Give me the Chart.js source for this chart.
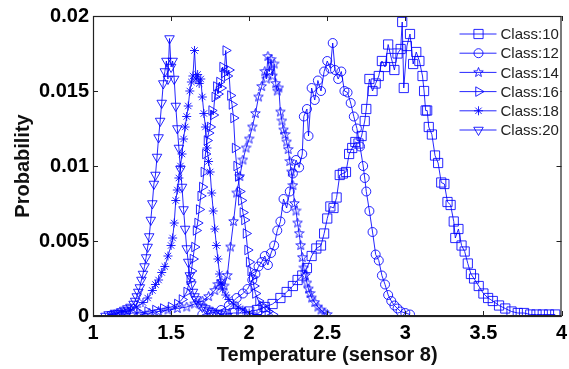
<!DOCTYPE html>
<html>
<head>
<meta charset="utf-8">
<script src="https://cdn.jsdelivr.net/npm/chart.js@4.4.0/dist/chart.umd.min.js"></script>
<style>
  html, body { margin: 0; padding: 0; background: #fff; }
  #wrap { width: 569px; height: 369px; }
</style>
</head>
<body>
<div id="wrap"><canvas id="tempChart" width="569" height="369"></canvas></div>
<script>
// series labels
const classNames = ['Class:10', 'Class:12', 'Class:14', 'Class:16', 'Class:18', 'Class:20'];

// axis ticks
const xTicks = [1, 1.5, 2, 2.5, 3, 3.5, 4];
const yTicks = [0, 0.005, 0.01, 0.015, 0.02];

// Class:10 (squares)
const x10 = [1.85,1.90,1.95,2.00,2.05,2.10,2.15,2.20,2.24,2.28,2.31,2.34,2.37,2.40,2.43,2.46,2.48,2.50,2.52,2.54,2.56,2.58,2.60,2.62,2.64,2.66,2.68,2.70,2.72,2.74,2.75,2.77,2.79,2.81,2.83,2.85,2.87,2.89,2.91,2.93,2.95,2.97,2.98,2.99,3.01,3.03,3.05,3.07,3.09,3.11,3.12,3.13,3.14,3.15,3.17,3.19,3.21,3.23,3.25,3.27,3.29,3.31,3.32,3.34,3.36,3.38,3.40,3.42,3.44,3.47,3.50,3.53,3.56,3.60,3.64,3.68,3.72,3.76,3.80,3.84,3.88,3.92,3.96];
const y10 = [0.0001,0.0002,0.0002,0.0003,0.0004,0.0006,0.0008,0.0012,0.0016,0.0020,0.0024,0.0027,0.0032,0.0040,0.0045,0.0047,0.0055,0.0065,0.0073,0.0072,0.0079,0.0094,0.0095,0.0096,0.0108,0.0112,0.0116,0.0115,0.0120,0.0130,0.0138,0.0158,0.0150,0.0155,0.0160,0.0170,0.0166,0.0181,0.0172,0.0164,0.0175,0.0178,0.0196,0.0152,0.0180,0.0188,0.0168,0.0176,0.0170,0.0160,0.0150,0.0137,0.0137,0.0126,0.0121,0.0107,0.0102,0.0089,0.0088,0.0076,0.0074,0.0063,0.0052,0.0058,0.0047,0.0043,0.0035,0.0028,0.0025,0.0020,0.0015,0.0012,0.0010,0.0007,0.0005,0.0003,0.0002,0.0002,0.0001,0.0001,0.0001,0.0001,0.0001];

// Class:12 (circles)
const x12 = [1.70,1.76,1.82,1.87,1.92,1.96,1.99,2.02,2.04,2.06,2.08,2.10,2.12,2.14,2.16,2.18,2.20,2.22,2.24,2.26,2.28,2.30,2.32,2.34,2.35,2.37,2.38,2.40,2.42,2.44,2.46,2.48,2.50,2.52,2.535,2.55,2.57,2.59,2.61,2.63,2.65,2.67,2.69,2.71,2.73,2.74,2.75,2.77,2.79,2.81,2.83,2.85,2.87,2.89,2.91,2.93,2.95,2.97,3.00,3.03];
const y12 = [0.0001,0.0002,0.0004,0.0007,0.0012,0.0015,0.0018,0.0024,0.0028,0.0033,0.0036,0.0040,0.0034,0.0042,0.0047,0.0057,0.0063,0.0078,0.0072,0.0083,0.0095,0.0104,0.0099,0.0108,0.0133,0.0138,0.0120,0.0152,0.0144,0.0157,0.0150,0.0163,0.0170,0.0165,0.0182,0.0164,0.0158,0.0163,0.0150,0.0149,0.0142,0.0133,0.0125,0.0113,0.0100,0.0092,0.0083,0.0070,0.0056,0.0041,0.0037,0.0027,0.0021,0.0014,0.0010,0.0007,0.0005,0.0003,0.0002,0.0001];

// Class:14 (pentagrams)
const x14 = [1.30,1.36,1.42,1.48,1.54,1.60,1.65,1.70,1.74,1.78,1.80,1.82,1.84,1.86,1.88,1.90,1.92,1.94,1.96,1.98,2.00,2.02,2.04,2.06,2.08,2.10,2.11,2.12,2.13,2.14,2.15,2.16,2.17,2.18,2.19,2.20,2.21,2.22,2.23,2.24,2.25,2.26,2.27,2.28,2.29,2.30,2.31,2.32,2.33,2.34,2.35,2.36,2.37,2.38,2.39,2.40,2.42,2.44,2.46,2.48,2.50];
const y14 = [0.0001,0.0002,0.0003,0.0004,0.0005,0.0006,0.0008,0.0010,0.0013,0.0017,0.0021,0.0023,0.0020,0.0027,0.0046,0.0063,0.0082,0.0093,0.0104,0.0112,0.0118,0.0126,0.0135,0.0146,0.0153,0.0163,0.0158,0.0173,0.0163,0.0171,0.0160,0.0168,0.0155,0.0150,0.0152,0.0136,0.0130,0.0124,0.0121,0.0116,0.0111,0.0103,0.0096,0.0087,0.0075,0.0070,0.0062,0.0055,0.0047,0.0039,0.0032,0.0027,0.0022,0.0018,0.0015,0.0012,0.0009,0.0006,0.0004,0.0002,0.0001];

// Class:16 (right triangles)
const x16 = [1.20,1.25,1.30,1.35,1.40,1.45,1.50,1.54,1.57,1.60,1.62,1.63,1.64,1.65,1.66,1.67,1.68,1.69,1.70,1.71,1.72,1.73,1.74,1.75,1.76,1.77,1.78,1.79,1.80,1.81,1.82,1.83,1.84,1.85,1.86,1.87,1.88,1.89,1.90,1.91,1.92,1.93,1.94,1.95,1.96,1.97,1.98,1.99,2.00,2.01,2.02,2.03,2.04,2.06,2.08,2.10,2.12,2.15];
const y16 = [0.0001,0.0002,0.0002,0.0003,0.0004,0.0005,0.0006,0.0008,0.0011,0.0016,0.0024,0.0030,0.0038,0.0046,0.0057,0.0062,0.0071,0.0080,0.0086,0.0096,0.0108,0.0117,0.0122,0.0126,0.0137,0.0134,0.0146,0.0153,0.0148,0.0156,0.0152,0.0166,0.0162,0.0177,0.0160,0.0164,0.0147,0.0141,0.0132,0.0112,0.0100,0.0093,0.0083,0.0077,0.0069,0.0064,0.0055,0.0044,0.0036,0.0030,0.0026,0.0020,0.0015,0.0010,0.0007,0.0005,0.0003,0.0001];

// Class:18 (asterisks)
const x18 = [1.12,1.16,1.20,1.24,1.28,1.32,1.35,1.38,1.40,1.42,1.44,1.46,1.48,1.50,1.51,1.52,1.53,1.54,1.55,1.56,1.57,1.58,1.59,1.60,1.61,1.62,1.63,1.64,1.65,1.66,1.67,1.68,1.69,1.70,1.71,1.72,1.73,1.74,1.75,1.76,1.77,1.78,1.79,1.80,1.81,1.82,1.83,1.85,1.87,1.90,1.93,1.96,2.00,2.05];
const y18 = [0.0001,0.0002,0.0003,0.0004,0.0006,0.0009,0.0012,0.0017,0.0021,0.0024,0.0029,0.0033,0.0040,0.0047,0.0052,0.0062,0.0077,0.0084,0.0092,0.0100,0.0108,0.0118,0.0126,0.0133,0.0140,0.0150,0.0156,0.0160,0.0177,0.0158,0.0161,0.0155,0.0158,0.0146,0.0135,0.0126,0.0112,0.0103,0.0096,0.0082,0.0070,0.0058,0.0047,0.0038,0.0028,0.0022,0.0018,0.0014,0.0011,0.0008,0.0006,0.0004,0.0002,0.0001];

// Class:20 (down triangles)
const x20 = [1.08,1.10,1.12,1.14,1.16,1.18,1.20,1.22,1.24,1.26,1.27,1.28,1.29,1.30,1.31,1.32,1.33,1.34,1.35,1.36,1.37,1.38,1.39,1.40,1.41,1.42,1.43,1.44,1.45,1.46,1.47,1.48,1.49,1.50,1.51,1.52,1.53,1.54,1.55,1.56,1.57,1.58,1.59,1.60,1.61,1.62,1.63,1.64,1.65,1.66,1.68,1.70,1.72,1.74,1.76,1.78,1.80,1.83,1.86];
const y20 = [0.0000,0.0001,0.0001,0.0002,0.0002,0.0003,0.0004,0.0005,0.0006,0.0008,0.0010,0.0013,0.0016,0.0019,0.0024,0.0028,0.0033,0.0039,0.0046,0.0053,0.0064,0.0075,0.0088,0.0094,0.0106,0.0119,0.0130,0.0142,0.0155,0.0163,0.0170,0.0158,0.0185,0.0166,0.0170,0.0158,0.0140,0.0125,0.0112,0.0098,0.0086,0.0071,0.0058,0.0045,0.0036,0.0027,0.0021,0.0016,0.0013,0.0011,0.0008,0.0006,0.0005,0.0004,0.0003,0.0002,0.0002,0.0001,0.0000];

const blue = 'rgba(0, 0, 255, 0.85)';
const FONT = "'Liberation Sans', Arial, sans-serif";

// pentagram marker (chart.js has no 5-point star)
function makePentagram(size) {
    const c = document.createElement('canvas');
    c.width = size; c.height = size;
    const g = c.getContext('2d');
    const cx = size / 2, cy = size / 2, R = size / 2 - 0.5, r = R * 0.42;
    g.beginPath();
    for (let i = 0; i < 10; i++) {
        const a = -Math.PI / 2 + i * Math.PI / 5;
        const rr = i % 2 === 0 ? R : r;
        const px = cx + rr * Math.cos(a), py = cy + rr * Math.sin(a);
        if (i === 0) g.moveTo(px, py); else g.lineTo(px, py);
    }
    g.closePath();
    g.strokeStyle = blue;
    g.lineWidth = 1;
    g.stroke();
    return c;
}
const pentagram = makePentagram(11);

function pts(xs, ys) {
    return xs.map((x, i) => ({ x: x, y: ys[i] }));
}

const markers = [
    { style: 'rect', radius: 6.5, rotation: 0 },
    { style: 'circle', radius: 4.5, rotation: 0 },
    { style: pentagram, radius: 5, rotation: 0 },
    { style: 'triangle', radius: 5.5, rotation: 90 },
    { style: 'star', radius: 4.5, rotation: 0 },
    { style: 'triangle', radius: 5.5, rotation: 180 }
];
const seriesData = [pts(x10, y10), pts(x12, y12), pts(x14, y14), pts(x16, y16), pts(x18, y18), pts(x20, y20)];

const datasets = classNames.map((name, i) => ({
    label: name,
    data: seriesData[i],
    borderColor: blue,
    backgroundColor: 'rgba(0,0,0,0)',
    borderWidth: 1,
    pointStyle: markers[i].style,
    pointRadius: markers[i].radius,
    pointRotation: markers[i].rotation,
    pointBorderColor: blue,
    pointBackgroundColor: 'rgba(0,0,0,0)',
    pointBorderWidth: 1,
    tension: 0,
    fill: false
}));

// box around the plot + ticks pointing inward, matlab style
const boxPlugin = {
    id: 'box',
    afterDraw(chart) {
        const ctx = chart.ctx, a = chart.chartArea;
        const xs = chart.scales.x, ys = chart.scales.y;
        ctx.save();
        ctx.strokeStyle = '#222';
        ctx.lineWidth = 1;
        xTicks.forEach(v => {
            const px = Math.round(xs.getPixelForValue(v)) + 0.5;
            ctx.beginPath();
            ctx.moveTo(px, a.bottom); ctx.lineTo(px, a.bottom - 5);
            ctx.moveTo(px, a.top); ctx.lineTo(px, a.top + 5);
            ctx.stroke();
        });
        yTicks.forEach(v => {
            const py = Math.round(ys.getPixelForValue(v)) + 0.5;
            ctx.beginPath();
            ctx.moveTo(a.left, py); ctx.lineTo(a.left + 5, py);
            ctx.moveTo(a.right, py); ctx.lineTo(a.right - 5, py);
            ctx.stroke();
        });
        // legend
        const lx = a.right - 110, ly = a.top + 1, lw = 109, lh = 126;
        ctx.fillStyle = '#fff';
        ctx.fillRect(lx, ly, lw, lh);
        ctx.font = '15px ' + FONT;
        ctx.textBaseline = 'middle';
        classNames.forEach((name, i) => {
            const yy = ly + 17 + i * 19.2;
            ctx.strokeStyle = blue;
            ctx.lineWidth = 1;
            ctx.beginPath();
            ctx.moveTo(lx + 8, yy); ctx.lineTo(lx + 45, yy);
            ctx.stroke();
            ctx.fillStyle = 'rgba(0,0,0,0)';
            Chart.helpers.drawPoint(ctx, {
                pointStyle: markers[i].style,
                radius: markers[i].radius,
                rotation: markers[i].rotation,
                borderWidth: 1
            }, lx + 27, yy);
            ctx.fillStyle = '#222';
            ctx.fillText(name, lx + 49, yy + 1);
        });
        // frame
        ctx.strokeStyle = '#222';
        ctx.lineWidth = 1.2;
        ctx.strokeRect(a.left + 0.5, a.top + 0.5, a.right - a.left - 1, a.bottom - a.top);
        ctx.lineWidth = 2;
        ctx.beginPath();
        ctx.moveTo(a.left, a.bottom); ctx.lineTo(a.right, a.bottom);
        ctx.stroke();
        ctx.restore();
    }
};

new Chart(document.getElementById('tempChart').getContext('2d'), {
    type: 'line',
    data: { datasets: datasets },
    options: {
        responsive: false,
        animation: false,
        layout: { padding: { top: 14, right: 1, left: 0, bottom: 0 } },
        plugins: { legend: { display: false }, tooltip: { enabled: false } },
        scales: {
            x: {
                type: 'linear',
                min: 1, max: 4,
                afterBuildTicks: s => { s.ticks = xTicks.map(v => ({ value: v })); },
                afterFit: s => { s.height = 53; s.paddingRight = 0; s.paddingLeft = 0; },
                grid: { display: false, drawTicks: false },
                border: { display: false },
                ticks: {
                    padding: 5,
                    color: '#000',
                    font: { family: FONT, size: 20, weight: 'bold' },
                    maxRotation: 0,
                    callback: v => String(v)
                },
                title: {
                    display: true,
                    text: 'Temperature (sensor 8)',
                    color: '#111',
                    font: { family: FONT, size: 20, weight: 'bold' },
                    padding: { top: 0, bottom: 2 }
                }
            },
            y: {
                min: 0, max: 0.02,
                afterBuildTicks: s => { s.ticks = yTicks.map(v => ({ value: v })); },
                afterFit: s => { s.width = 93; },
                grid: { display: false, drawTicks: false },
                border: { display: false },
                ticks: {
                    padding: 4,
                    color: '#000',
                    font: { family: FONT, size: 20, weight: 'bold' },
                    callback: v => String(+v.toFixed(3))
                },
                title: {
                    display: true,
                    text: 'Probability',
                    color: '#111',
                    font: { family: FONT, size: 20, weight: 'bold' },
                    padding: { top: 11, bottom: 0 }
                }
            }
        }
    },
    plugins: [boxPlugin]
});
</script>
</body>
</html>
